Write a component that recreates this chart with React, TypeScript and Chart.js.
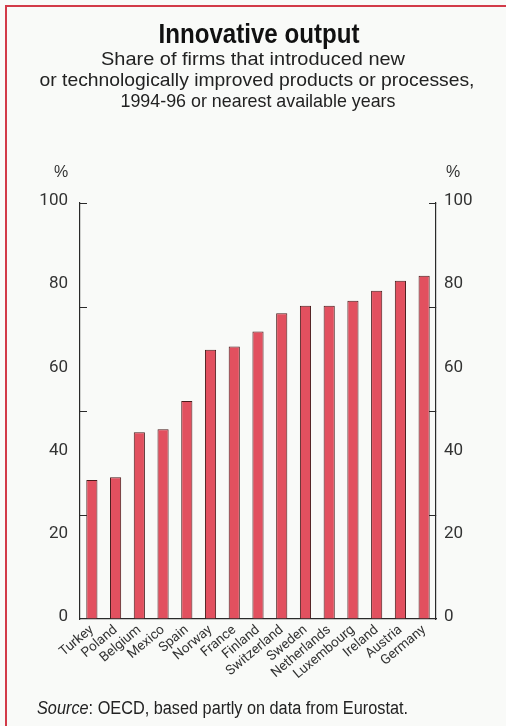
import React, { useEffect, useRef } from "react";
import { Chart, registerables } from "chart.js";

Chart.register(...registerables);

const countries = [
  "Turkey", "Poland", "Belgium", "Mexico", "Spain", "Norway", "France", "Finland",
  "Switzerland", "Sweden", "Netherlands", "Luxembourg", "Ireland", "Austria", "Germany",
];
const shares = [33.4, 34.1, 44.9, 45.6, 52.4, 64.7, 65.5, 69.1, 73.5, 75.3, 75.3, 76.5, 78.9, 81.3, 82.5];
const labeledTicks = [0, 20, 40, 60, 80, 100];
const markedTicks = [25, 50, 75, 100];
const allTicks = [0, 20, 25, 40, 50, 60, 75, 80, 100];

const titleText = "Innovative output";
const subtitleLines = [
  "Share of firms that introduced new",
  "or technologically improved products or processes,",
  "1994-96 or nearest available years",
];
const sourceLabel = "Source";
const sourceText = ": OECD, based partly on data from Eurostat.";

const HFONT = "'Liberation Sans', Arial, sans-serif";
const CFONT = "Roboto, 'Liberation Sans', sans-serif";
const INK = "#2a2a2a";

function measure(text: string, font: string): number {
  const c = document.createElement("canvas").getContext("2d");
  if (!c) return text.length * 8;
  c.font = font;
  return c.measureText(text).width;
}

function yAxis(position: "left" | "right") {
  return {
    position,
    min: 0,
    max: 100,
    afterBuildTicks: (scale: any) => {
      scale.ticks = allTicks.map((v) => ({ value: v }));
    },
    afterFit: (scale: any) => {
      scale.width = position === "left" ? 80 : 70;
    },
    ticks: {
      autoSkip: false,
      padding: position === "left" ? 19 : 15,
      labelOffset: -2,
      color: "#333",
      font: { family: CFONT, size: 17 },
      callback: (v: any) => (labeledTicks.includes(Number(v)) ? String(v) : ""),
    },
    grid: {
      drawOnChartArea: false,
      drawTicks: true,
      tickLength: -7,
      tickWidth: 1,
      tickColor: (ctx: any) =>
        ctx.tick && markedTicks.includes(ctx.tick.value) ? INK : "rgba(0,0,0,0)",
      color: "rgba(0,0,0,0)",
    },
    border: { display: true, color: INK, width: 1.2 },
  };
}

function ChartCanvas() {
  const ref = useRef<HTMLCanvasElement | null>(null);
  useEffect(() => {
    if (!ref.current) return;
    const chart = new Chart(ref.current, {
      type: "bar",
      data: {
        labels: countries,
        datasets: [
          {
            data: shares,
            backgroundColor: "#e2505f",
            borderColor: "#4a1c1c",
            borderWidth: 1,
            barPercentage: 0.47,
            categoryPercentage: 1,
            yAxisID: "y",
          },
        ],
      },
      options: {
        responsive: false,
        animation: false,
        devicePixelRatio: 1,
        layout: { padding: { top: 203, left: 0, right: 0, bottom: 0 } },
        plugins: {
          legend: { display: false },
          tooltip: { enabled: false },
          title: { display: false },
        },
        scales: {
          x: {
            afterFit: (scale: any) => {
              scale.height = 107;
            },
            grid: { display: false, drawTicks: false },
            border: { display: true, color: INK, width: 1.2 },
            ticks: {
              autoSkip: false,
              minRotation: 40,
              maxRotation: 40,
              padding: 3,
              color: "#333",
              font: { family: CFONT, size: 13.5 },
            },
          },
          y: yAxis("left") as any,
          y2: yAxis("right") as any,
        },
      },
    });
    return () => chart.destroy();
  }, []);
  return (
    <canvas
      ref={ref}
      width={506}
      height={726}
      style={{ position: "absolute", left: 0, top: 0, width: 506, height: 726 }}
    />
  );
}

function Centered(props: {
  text: string;
  cx: number;
  top: number;
  size: number;
  weight?: number;
  width: number;
  color?: string;
}) {
  const font = `${props.weight || 400} ${props.size}px ${HFONT}`;
  const s = props.width / measure(props.text, font);
  return (
    <div
      style={{
        position: "absolute",
        left: props.cx - 300,
        width: 600,
        top: props.top,
        textAlign: "center",
        fontFamily: HFONT,
        fontSize: props.size,
        fontWeight: props.weight || 400,
        lineHeight: `${props.size + 4}px`,
        color: props.color || "#222",
        whiteSpace: "nowrap",
        transform: `scaleX(${s})`,
        transformOrigin: "50% 50%",
      }}
    >
      {props.text}
    </div>
  );
}

export default function App() {
  const srcSize = 18;
  const srcW =
    measure(sourceLabel, `italic 400 ${srcSize}px ${HFONT}`) +
    measure(sourceText, `400 ${srcSize}px ${HFONT}`);
  const srcScale = 371 / srcW;
  return (
    <div
      style={{
        position: "absolute",
        left: 0,
        top: 0,
        width: 506,
        height: 726,
        background: "#f9faf8",
        overflow: "hidden",
      }}
    >
      <div
        style={{
          position: "absolute",
          left: 5,
          top: 5,
          width: 520,
          height: 740,
          borderTop: "2px solid #d23a48",
          borderLeft: "2px solid #d23a48",
        }}
      />
      <ChartCanvas />
      <Centered text={titleText} cx={259} top={18} size={28} weight={700} width={201} color="#111" />
      <Centered text={subtitleLines[0]} cx={253} top={47} size={19} width={304} />
      <Centered text={subtitleLines[1]} cx={257} top={68} size={19} width={435} />
      <Centered text={subtitleLines[2]} cx={258} top={88.5} size={19} width={275} />
      <div style={{ position: "absolute", left: 54, top: 163, fontFamily: HFONT, fontSize: 16, color: "#333" }}>%</div>
      <div style={{ position: "absolute", left: 446, top: 163, fontFamily: HFONT, fontSize: 16, color: "#333" }}>%</div>
      <div
        style={{
          position: "absolute",
          left: 37,
          top: 698,
          fontFamily: HFONT,
          fontSize: srcSize,
          color: "#222",
          whiteSpace: "nowrap",
          transform: `scaleX(${srcScale})`,
          transformOrigin: "0 50%",
        }}
      >
        <i>{sourceLabel}</i>
        {sourceText}
      </div>
    </div>
  );
}
